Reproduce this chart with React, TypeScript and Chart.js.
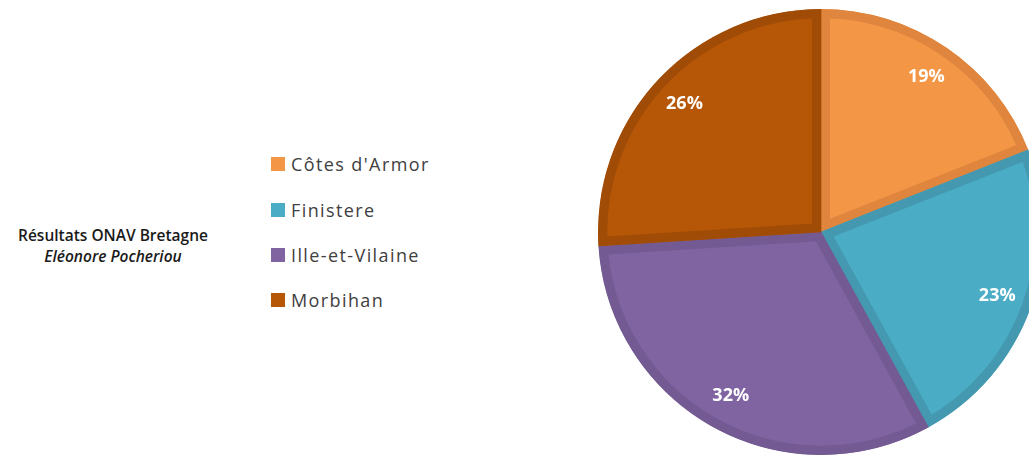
import React, { useEffect, useRef } from "react";
import { Chart, registerables } from "chart.js";

Chart.register(...registerables);

const categories = ["Côtes d'Armor", "Finistere", "Ille-et-Vilaine", "Morbihan"];
const values = [19, 23, 32, 26];
const fillColors = ["#F39646", "#4AACC5", "#8064A2", "#B65708"];
const borderColors = ["#DF853D", "#4499B1", "#735A92", "#A14C06"];
const titleLines = ["Résultats ONAV Bretagne", "Eléonore Pocheriou"];

const FONT = "'Open Sans', 'DejaVu Sans', sans-serif";

const labelPlugin = {
  id: "pctLabels",
  afterDatasetsDraw(chart: any) {
    const ctx = chart.ctx;
    const meta = chart.getDatasetMeta(0);
    const data = chart.data.datasets[0].data as number[];
    const total = data.reduce((a, b) => a + b, 0);
    ctx.save();
    ctx.fillStyle = "#ffffff";
    ctx.font = `bold 18px ${FONT}`;
    ctx.textAlign = "center";
    ctx.textBaseline = "middle";
    meta.data.forEach((arc: any, i: number) => {
      const { startAngle, endAngle, outerRadius, x, y } = arc.getProps(
        ["startAngle", "endAngle", "outerRadius", "x", "y"],
        true
      );
      const mid = (startAngle + endAngle) / 2;
      const r = outerRadius * 0.84;
      const pct = Math.round((data[i] / total) * 100) + "%";
      ctx.fillText(pct, x + Math.cos(mid) * r, y + Math.sin(mid) * r);
    });
    ctx.restore();
  },
};

export default function App() {
  const ref = useRef<HTMLCanvasElement | null>(null);

  useEffect(() => {
    document.body.style.margin = "0";
    if (!ref.current) return;
    const chart = new Chart(ref.current, {
      type: "pie",
      data: {
        labels: categories,
        datasets: [
          {
            data: values,
            backgroundColor: fillColors,
            borderColor: borderColors,
            borderWidth: 9,
            borderAlign: "inner",
            hoverOffset: 0,
            offset: 0,
          } as any,
        ],
      },
      options: {
        animation: false,
        responsive: false,
        maintainAspectRatio: false,
        events: [],
        layout: { padding: 0 },
        plugins: {
          legend: { display: false },
          tooltip: { enabled: false },
          title: { display: false },
        },
      },
      plugins: [labelPlugin],
    });
    return () => chart.destroy();
  }, []);

  const legendTop = [164, 210, 255, 300];

  return (
    <div
      style={{
        position: "fixed",
        left: 0,
        top: 0,
        width: 1029,
        height: 455,
        overflow: "hidden",
        background: "#ffffff",
        fontFamily: FONT,
      }}
    >
      <div
        style={{
          position: "absolute",
          left: 8,
          top: 225,
          width: 210,
          textAlign: "center",
          fontSize: 15.5,
          lineHeight: "21px",
          fontWeight: 600,
          color: "#1a1a1a",
        }}
      >
        <div>{titleLines[0]}</div>
        <div style={{ fontStyle: "italic" }}>{titleLines[1]}</div>
      </div>
      {categories.map((c, i) => (
        <div
          key={c}
          style={{
            position: "absolute",
            left: 271,
            top: legendTop[i] - 12,
            height: 24,
            display: "flex",
            alignItems: "center",
            whiteSpace: "nowrap",
          }}
        >
          <span
            style={{
              display: "inline-block",
              width: 14,
              height: 14,
              background: fillColors[i],
              marginRight: 6,
            }}
          />
          <span style={{ fontSize: 18, color: "#404040", letterSpacing: 1.4 }}>{c}</span>
        </div>
      ))}
      <canvas
        ref={ref}
        width={446}
        height={446}
        style={{ position: "absolute", left: 598, top: 9, width: 446, height: 446 }}
      />
    </div>
  );
}
